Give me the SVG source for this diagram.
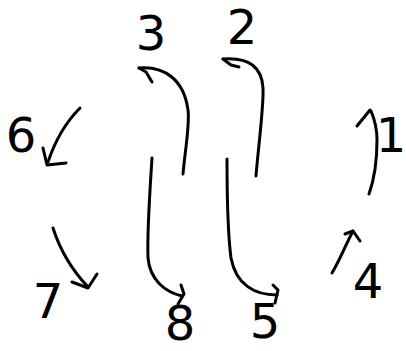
<svg xmlns="http://www.w3.org/2000/svg" width="406" height="351" viewBox="0 0 406 351">
<style>
.lbl{font-family:"DejaVu Sans","Liberation Sans",sans-serif;font-size:48px;fill:#000;text-anchor:middle}
.arr{fill:none;stroke:#000;stroke-width:3;stroke-linecap:round;stroke-linejoin:round}
</style>
<rect width="406" height="351" fill="#fff"/>
<g id="n3"><text class="lbl" x="151" y="50">3</text></g>
<g id="n2"><text class="lbl" x="242" y="44" font-size="32">2</text></g>
<g id="n6"><text class="lbl" x="21" y="152" font-size="48">6</text></g>
<g id="n1"><text class="lbl" x="391" y="152" font-size="48">1</text></g>
<g id="n7"><text class="lbl" x="48" y="318" font-size="54">7</text></g>
<g id="n4"><text class="lbl" x="368" y="298" font-size="48">4</text></g>
<g id="n8"><text class="lbl" x="180" y="340" font-size="40">8</text></g>
<g id="n5"><text class="lbl" x="265" y="338" font-size="42">5</text></g>
<g id="connectors">
<path class="arr" d="M183,174 C185,150 190,125 188,110 C184,80 165,66 139,68"/>
<path class="arr" d="M139,68 L146,72 L152,82"/>
<path class="arr" d="M256,176 C258,150 264,105 263,88 C262,68 250,57 223,59"/>
<path class="arr" d="M223,59 L231,65 L239,67"/>
<path class="arr" d="M152,158 C150,190 147,230 148,258 C150,280 165,292 182,296"/>
<path class="arr" d="M181,285 L184,294 L178,304"/>
<path class="arr" d="M227,159 C227,200 228,235 231,258 C236,285 255,295 277,295"/>
<path class="arr" d="M273,285 L278,290 L275,303"/>
<path class="arr" d="M80,108 C68,120 56,138 48,162"/>
<path class="arr" d="M43,148 L47,165 L66,163"/>
<path class="arr" d="M53,228 C60,250 72,270 88,287"/>
<path class="arr" d="M72,282 L88,288 L97,274"/>
<path class="arr" d="M369,194 C374,180 377,160 377,140 C377,128 374,118 371,111"/>
<path class="arr" d="M357,126 L370,110"/>
<path class="arr" d="M332,273 C340,260 346,244 353,231"/>
<path class="arr" d="M345,234 L353,231 L360,241"/>
</g>
</svg>
